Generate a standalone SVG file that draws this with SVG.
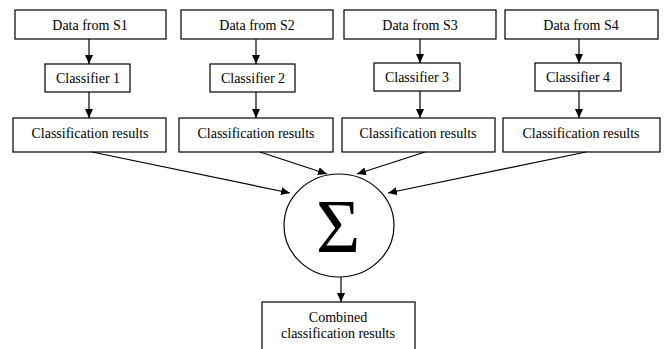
<svg xmlns="http://www.w3.org/2000/svg" width="665" height="349" viewBox="0 0 665 349" font-family="'Liberation Serif', 'Times New Roman', Times, serif">
<defs>
<marker id="ah" markerWidth="10" markerHeight="10" refX="9" refY="4" orient="auto" markerUnits="userSpaceOnUse">
<path d="M0,0 L9,4 L0,8 Z" fill="#000"/>
</marker>
<style>
rect, ellipse { fill: #fff; stroke: #000; stroke-width: 1.2; }
text { font-family: 'Liberation Serif', 'Times New Roman', Times, serif; font-size: 14px; fill: #000; text-anchor: middle; }
.c line { stroke: #000; stroke-width: 1.2; marker-end: url(#ah); }
.sig { font-size: 76px; }
</style>
</defs>
<rect width="665" height="349" fill="#fff" style="stroke:none"/>
<g id="data1"><rect x="15" y="10" width="151" height="29"/><text x="90" y="30">Data from S1</text></g>
<g id="data2"><rect x="181" y="10" width="152" height="29"/><text x="257" y="30">Data from S2</text></g>
<g id="data3"><rect x="344" y="10" width="152" height="29"/><text x="420" y="30">Data from S3</text></g>
<g id="data4"><rect x="505" y="10" width="153" height="29"/><text x="581" y="30">Data from S4</text></g>
<g id="cls1"><rect x="45" y="64" width="85" height="28"/><text x="88" y="83">Classifier 1</text></g>
<g id="cls2"><rect x="210" y="64" width="85" height="28"/><text x="253" y="83">Classifier 2</text></g>
<g id="cls3"><rect x="374" y="63" width="86" height="28"/><text x="417" y="82">Classifier 3</text></g>
<g id="cls4"><rect x="535" y="63" width="86" height="28"/><text x="578" y="82">Classifier 4</text></g>
<g id="res1"><rect x="13" y="118" width="153" height="34"/><text x="90" y="138">Classification results</text></g>
<g id="res2"><rect x="179" y="118" width="154" height="34"/><text x="256" y="138">Classification results</text></g>
<g id="res3"><rect x="342" y="118" width="153" height="34"/><text x="418" y="138">Classification results</text></g>
<g id="res4"><rect x="503" y="118" width="157" height="34"/><text x="581" y="138">Classification results</text></g>
<g id="sum"><ellipse cx="339" cy="225.5" rx="55" ry="51.5"/><text class="sig" x="338" y="252">Σ</text></g>
<g id="combined"><rect x="262" y="302" width="153" height="60"/><text x="338" y="322">Combined</text><text x="338" y="338">classification results</text></g>
<g class="c" id="connectors">
<line x1="89" y1="39" x2="89" y2="64"/>
<line x1="256" y1="39" x2="256" y2="64"/>
<line x1="420" y1="39" x2="420" y2="63"/>
<line x1="579" y1="39" x2="579" y2="63"/>
<line x1="89" y1="92" x2="89" y2="118"/>
<line x1="256" y1="92" x2="256" y2="118"/>
<line x1="420" y1="91" x2="420" y2="118"/>
<line x1="579" y1="91" x2="579" y2="118"/>
<line x1="92" y1="152" x2="290" y2="193"/>
<line x1="260" y1="152" x2="327" y2="174"/>
<line x1="425" y1="152" x2="357" y2="174"/>
<line x1="586" y1="152" x2="388" y2="193"/>
<line x1="341" y1="277" x2="341" y2="302"/>
</g>
</svg>
